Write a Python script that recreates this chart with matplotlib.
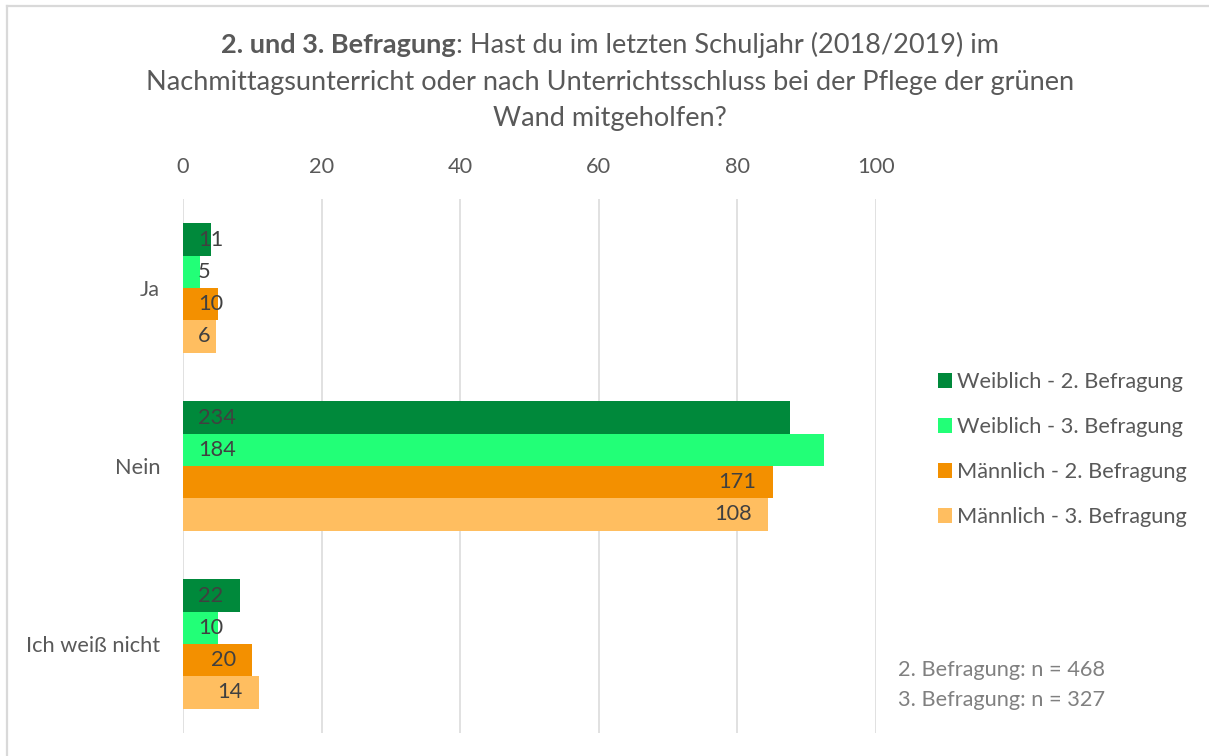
import matplotlib
matplotlib.use("Agg")
import matplotlib.pyplot as plt
from matplotlib.patches import Patch
from matplotlib.lines import Line2D
import numpy as np

# ---------------- data ----------------
categories = ["Ja", "Nein", "Ich weiß nicht"]
series_names = ["Weiblich - 2. Befragung", "Weiblich - 3. Befragung",
                "Männlich - 2. Befragung", "Männlich - 3. Befragung"]
# bar lengths (percent)
w2_pct = [4.1, 87.6, 8.2]
w3_pct = [2.5, 92.5, 5.0]
m2_pct = [5.0, 85.1, 10.0]
m3_pct = [4.7, 84.4, 10.9]
# data labels (counts)
w2_n = [11, 234, 22]
w3_n = [5, 184, 10]
m2_n = [10, 171, 20]
m3_n = [6, 108, 14]
x_ticks = [0, 20, 40, 60, 80, 100]
title_bold = "2. und 3. Befragung"
title_rest = ": Hast du im letzten Schuljahr (2018/2019) im"
title_line2 = "Nachmittagsunterricht oder nach Unterrichtsschluss bei der Pflege der grünen"
title_line3 = "Wand mitgeholfen?"
note_lines = ["2. Befragung: n = 468", "3. Befragung: n = 327"]

colors = ["#00893B", "#22FF77", "#F39000", "#FFBE60"]
FAM = ["Lato", "DejaVu Sans"]
W, H = 1209, 756
DPI = 100

fig = plt.figure(figsize=(W / DPI, H / DPI), dpi=DPI)
renderer = fig.canvas.get_renderer()


def px_x(x):
    return x / W


def px_y(y):
    return 1 - y / H


def fit_size(text, target_px, weight="normal"):
    t = fig.text(0, 0, text, fontsize=10, family=FAM, weight=weight)
    w = t.get_window_extent(renderer).width
    t.remove()
    return 10 * target_px / w


fs = fit_size("Weiblich - 2. Befragung", 226)
fs_title = fit_size(title_line2, 930)

# frame border (partially cropped chart area)
fig.add_artist(Line2D([px_x(7), px_x(7)], [px_y(6), 0], color="#D9D9D9", lw=1.6,
                      transform=fig.transFigure))
fig.add_artist(Line2D([px_x(7), 1], [px_y(6), px_y(6)], color="#D9D9D9", lw=1.6,
                      transform=fig.transFigure))

# axes
ax = fig.add_axes([px_x(183), px_y(733), px_x(876) - px_x(183), px_y(199) - px_y(733)])
ax.set_xlim(0, 100)
ax.set_ylim(2.5, -0.5)
for s in ax.spines.values():
    s.set_visible(False)
ax.set_axisbelow(True)
ax.grid(axis="x", color="#D9D9D9", lw=1.1)
ax.xaxis.tick_top()
ax.set_xticks(x_ticks)
ax.set_xticklabels([str(t) for t in x_ticks], fontsize=fs, family=FAM, color="#595959")
ax.set_yticks(np.arange(len(categories)))
ax.set_yticklabels(categories, fontsize=fs, family=FAM, color="#595959")
ax.tick_params(axis="x", length=0, pad=16)
ax.tick_params(axis="y", length=0, pad=16.5)

bar_h = 0.1815
y = np.arange(len(categories))
pcts = [w2_pct, w3_pct, m2_pct, m3_pct]
counts = [w2_n, w3_n, m2_n, m3_n]
offsets = [-1.5, -0.5, 0.5, 1.5]
px_per_unit = (876 - 183) / 100.0
for i in range(4):
    ax.barh(y + offsets[i] * bar_h, pcts[i], height=bar_h, color=colors[i],
            label=series_names[i])

for i in range(4):
    for j in range(len(categories)):
        yy = y[j] + offsets[i] * bar_h
        lab = str(counts[i][j])
        v = pcts[i][j]
        t = fig.text(0, 0, lab, fontsize=fs, family=FAM)
        wlab = t.get_window_extent(renderer).width
        t.remove()
        if i < 2 or (v * px_per_unit - 16.5 - wlab) < 15:
            ax.annotate(lab, xy=(0, yy), xytext=(15 * 72 / DPI, 0), textcoords="offset points",
                        ha="left", va="center", fontsize=fs, family=FAM, color="#404040")
        else:
            ax.annotate(lab, xy=(v, yy), xytext=(-16.5 * 72 / DPI, 0), textcoords="offset points",
                        ha="right", va="center", fontsize=fs, family=FAM, color="#404040")

# legend
fpx = fs * DPI / 72
tt = fig.text(0, 0, "Weiblich - 2. Befragung", fontsize=fs, family=FAM)
h_text = tt.get_window_extent(renderer).height
tt.remove()
hs = 14 / fpx
row_h = max(h_text, 14)
leg = ax.legend(handles=[Patch(facecolor=c, edgecolor="none") for c in colors],
                labels=series_names, loc="upper left",
                bbox_to_anchor=(px_x(938), px_y(382 - row_h / 2)),
                bbox_transform=fig.transFigure, frameon=False, borderpad=0, borderaxespad=0,
                handlelength=hs, handleheight=hs, handletextpad=5 / fpx,
                labelspacing=(45 - row_h) / fpx, prop={"family": FAM, "size": fs})
for t in leg.get_texts():
    t.set_color("#595959")

# notes
for k, line in enumerate(note_lines):
    fig.text(px_x(898), px_y([670, 700][k]), line, fontsize=fs, family=FAM, color="#808080",
             ha="left", va="center")

# title
cx = px_x(610)
tb = fig.text(0, px_y(53), title_bold, fontsize=fs_title, family=FAM, weight="bold",
              color="#595959", ha="left", va="baseline")
tr = fig.text(0, px_y(53), title_rest, fontsize=fs_title, family=FAM, color="#595959",
              ha="left", va="baseline")
wb = tb.get_window_extent(renderer).width
wr = tr.get_window_extent(renderer).width
start = 610 - (wb + wr) / 2
tb.set_x(px_x(start))
tr.set_x(px_x(start + wb))
fig.text(cx, px_y(90), title_line2, fontsize=fs_title, family=FAM, color="#595959",
         ha="center", va="baseline")
fig.text(cx, px_y(126), title_line3, fontsize=fs_title, family=FAM, color="#595959",
         ha="center", va="baseline")

fig.savefig("out.png", dpi=DPI)
